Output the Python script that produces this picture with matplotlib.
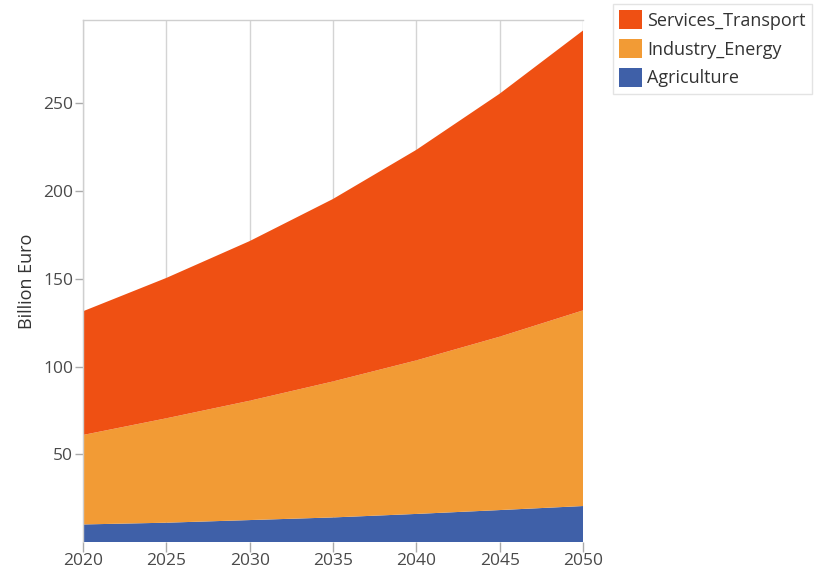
import matplotlib
matplotlib.use("Agg")
import matplotlib.pyplot as plt
from matplotlib.patches import Patch

plt.rcParams['font.family'] = ['Open Sans', 'DejaVu Sans']

years = [2020, 2025, 2030, 2035, 2040, 2045, 2050]
agriculture = [10.0, 11.0, 12.5, 14.0, 16.0, 18.2, 20.5]
industry_energy = [51.0, 59.5, 68.0, 77.5, 87.5, 98.8, 111.5]
services_transport = [70.5, 80.0, 91.0, 104.0, 120.0, 138.5, 159.5]

series_names = ["Agriculture", "Industry_Energy", "Services_Transport"]
colors = ["#3F60A8", "#F29B35", "#EF5013"]
y_ticks = [50, 100, 150, 200, 250]

fig = plt.figure(figsize=(8.19, 5.77), dpi=100)
ax = fig.add_axes([83 / 819, 1 - 542 / 577, 500 / 819, 522 / 577])

ax.stackplot(years, agriculture, industry_energy, services_transport,
             colors=colors, linewidth=0, zorder=2)

ax.set_xlim(2020, 2050)
ax.set_ylim(0, 297.5)
ax.set_xticks(years)
ax.set_yticks(y_ticks)
ax.xaxis.grid(True, color="#D4D4D4", linewidth=1, zorder=1)
ax.set_axisbelow(True)

grid_col = "#CFCFCF"
for side in ["right", "bottom"]:
    ax.spines[side].set_visible(False)
for side in ["left", "top"]:
    ax.spines[side].set_color(grid_col)
    ax.spines[side].set_linewidth(1)

ax.tick_params(axis="both", colors="#AAAAAA", labelcolor="#4A4A4A",
               labelsize=12.5, width=1)
ax.tick_params(axis="x", length=7, pad=1)
ax.tick_params(axis="y", length=6, pad=1)
ax.set_ylabel("Billion Euro", fontsize=13, color="#333333", labelpad=5)

handles = [Patch(facecolor=c, edgecolor="none") for c in colors[::-1]]
leg = fig.legend(handles, series_names[::-1], loc="upper left",
                 bbox_to_anchor=(613 / 819, 1 - 4 / 577), frameon=True,
                 fontsize=13, handlelength=1.25, handleheight=1.2,
                 handletextpad=0.3, labelspacing=0.53, borderpad=0.35,
                 borderaxespad=0, fancybox=False)
leg.get_frame().set_edgecolor("#DDDDDD")
leg.get_frame().set_linewidth(1)
for t in leg.get_texts():
    t.set_color("#333333")

fig.savefig("out.png", dpi=100)
